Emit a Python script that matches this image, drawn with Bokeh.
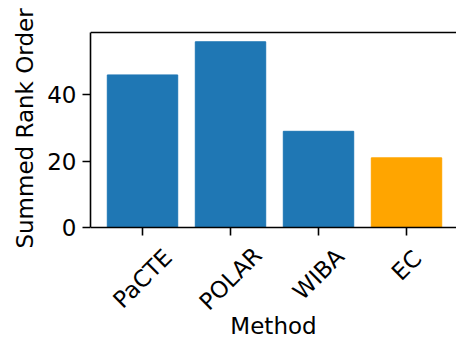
import numpy as np
from bokeh.plotting import figure
from bokeh.layouts import row
from bokeh.models import ColumnDataSource, FixedTicker, Range1d
from bokeh.core.properties import value
from bokeh.embed import file_html
from bokeh.resources import INLINE

methods = ["PaCTE", "POLAR", "WIBA", "EC"]
scores = [46, 56, 29, 21]
colors = ["#1f77b4", "#1f77b4", "#1f77b4", "#ffa500"]
y_ticks = [0, 20, 40]
x_title = "Method"
y_title = "Summed Rank Order"

FONT = "DejaVu Sans"
FS = "23px"

# layout (pixels)
W, H = 456, 343
TITLE_W = 40            # strip holding the y-axis title
LEFT = 90 - TITLE_W     # room for y tick labels
TOP = 32                # space above the plot box (inside the frame)
PLOT_H = 195            # visible plot box height
TICK = 8
FRAME_W = W - TITLE_W - LEFT
FRAME_H = H - TICK
X0, X1 = -0.591, 3.568
Y_TOP = max(scores) * 1.05
PX = Y_TOP / PLOT_H     # data units per pixel
Y_END = Y_TOP + TOP * PX
Y_BOT = -(FRAME_H - TOP - PLOT_H) * PX

xs = list(range(len(methods)))
# layout-only offsets for rotated, centred category labels (matplotlib style)
label_dy = [29 + 4.4 * len(m) for m in methods]
src = ColumnDataSource(dict(x=xs, top=scores, color=colors, name=methods,
                            zero=[0] * len(xs), dy=label_dy))

p = figure(frame_width=FRAME_W, frame_height=FRAME_H, output_backend="svg",
           toolbar_location=None, x_range=Range1d(X0, X1),
           y_range=Range1d(Y_BOT, Y_END),
           min_border_left=LEFT, min_border_right=0, min_border_top=0,
           min_border_bottom=TICK)
p.outline_line_color = None
p.grid.visible = False
p.background_fill_color = "white"

p.vbar(x="x", top="top", bottom=0, width=0.8, color="color", source=src)
# top spine of the plot box
p.hspan(y=[Y_TOP], line_width=1.6, line_color="black")

for ax in (p.xaxis[0], p.yaxis[0]):
    ax.axis_line_width = 1.6
    ax.axis_line_color = "black"
    ax.major_tick_line_width = 1.6
    ax.major_tick_line_color = "black"
    ax.major_tick_out = TICK
    ax.major_tick_in = 0
    ax.minor_tick_line_color = None
    ax.major_label_text_font = FONT
    ax.major_label_text_font_size = FS
    ax.major_label_text_color = "black"

p.yaxis[0].ticker = FixedTicker(ticks=y_ticks)
p.yaxis[0].bounds = (0, Y_TOP)
p.yaxis[0].major_label_standoff = 6

p.xaxis[0].ticker = FixedTicker(ticks=xs)
p.xaxis[0].fixed_location = 0
p.xaxis[0].major_label_text_font_size = "0px"
p.xaxis[0].major_label_text_color = None
p.xaxis[0].major_label_standoff = 0

# rotated category labels and x title, below the axis
p.text(x="x", y="zero", text="name", source=src, y_offset="dy",
       angle=np.pi / 4, text_align="center", text_baseline="middle",
       text_font=value(FONT), text_font_size=value(FS), text_color="black")
p.text(x=[(X0 + X1) / 2], y=[0], text=[x_title], y_offset=98,
       text_align="center", text_baseline="middle",
       text_font=value(FONT), text_font_size=value(FS), text_color="black")

# y-axis title strip (pixel coordinates, y measured from the frame bottom)
t = figure(frame_width=TITLE_W, frame_height=FRAME_H, output_backend="svg",
           toolbar_location=None, x_range=Range1d(0, TITLE_W),
           y_range=Range1d(0, FRAME_H), min_border_left=0, min_border_right=0,
           min_border_top=0, min_border_bottom=TICK)
t.outline_line_color = None
t.grid.visible = False
t.axis.visible = False
t.background_fill_color = "white"
t.text(x=[24], y=[FRAME_H - (TOP + PLOT_H / 2 - 1.5)], text=[y_title],
       angle=np.pi / 2, text_align="center", text_baseline="middle",
       text_font=value(FONT), text_font_size=value(FS), text_color="black")

layout = row(t, p, spacing=0)
open("out.html", "w").write(file_html(layout, INLINE))
